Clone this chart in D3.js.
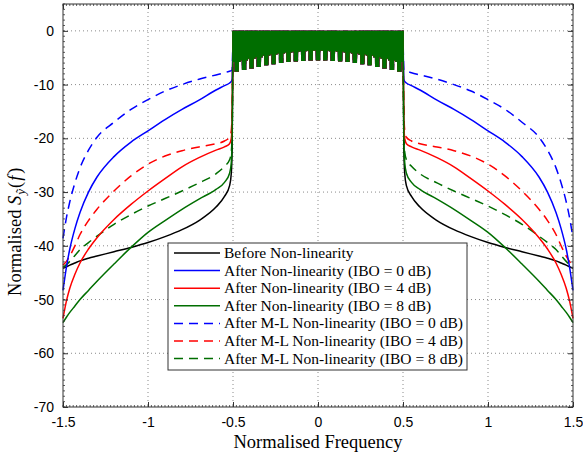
<!DOCTYPE html>
<html>
<head>
<meta charset="utf-8">
<script src="https://cdn.jsdelivr.net/npm/d3@7/dist/d3.min.js"></script>
<style>
  body { margin: 0; background: #fff; }
  .serif { font-family: "Liberation Serif", "Times New Roman", serif; }
</style>
</head>
<body>
<div id="chart"></div>
<script>
// |f| positions of the skirt samples (same on both sides of the band)
const skirtF = [0.5, 0.505, 0.51, 0.52, 0.55, 0.6, 0.7, 0.8, 0.9, 1.0, 1.1, 1.2, 1.3, 1.35, 1.4, 1.43, 1.46, 1.48, 1.5];

const beforeNL = [0, -22, -26.5, -28.8, -30.8, -32.8, -35.3, -37.0, -38.3, -39.4, -40.3, -41.1, -41.9, -42.3, -42.8, -43.2, -43.6, -43.9, -44.2];
const afterNL0 = [0, -9.0, -9.4, -9.7, -10.2, -11.0, -12.9, -14.6, -16.5, -18.6, -20.7, -23.4, -27.2, -30.0, -33.8, -36.8, -40.6, -44.0, -48.3];
const afterNL4 = [0, -17, -20.0, -21.0, -21.6, -22.2, -23.6, -25.3, -27.5, -29.8, -32.3, -35.1, -38.5, -40.6, -43.2, -45.3, -47.9, -50.3, -53.5];
const afterNL8 = [0, -20, -24.5, -26.5, -28.2, -29.5, -31.3, -33.2, -35.3, -37.5, -40.3, -43.4, -46.6, -48.3, -50.0, -51.2, -52.4, -53.3, -54.3];
const mlNL0 = [0, -7.3, -7.4, -7.5, -7.8, -8.2, -9.0, -10.0, -11.2, -12.8, -14.6, -17.0, -19.8, -22.2, -25.5, -28.3, -31.8, -34.8, -38.6];
const mlNL4 = [0, -15, -18.5, -19.8, -20.5, -21.0, -21.6, -22.3, -23.3, -24.8, -27.0, -29.8, -33.2, -35.3, -37.9, -40.0, -41.9, -42.9, -43.6];
const mlNL8 = [0, -19, -22.5, -24.0, -25.2, -26.6, -28.3, -29.8, -31.2, -32.6, -34.2, -36.0, -38.2, -39.4, -40.7, -41.8, -42.9, -43.5, -44.0];

// in-band ripple: one entry per ripple column
const bandF = [-0.478, -0.435, -0.391, -0.348, -0.304, -0.261, -0.217, -0.174, -0.130, -0.087, -0.043, 0,
  0.043, 0.087, 0.130, 0.174, 0.217, 0.261, 0.304, 0.348, 0.391, 0.435, 0.478];
const bandDepth = [-7.6, -7.3, -7.0, -6.7, -6.4, -6.2, -6.0, -5.8, -5.7, -5.6, -5.5, -5.5,
  -5.5, -5.6, -5.7, -5.8, -6.0, -6.2, -6.4, -6.7, -7.0, -7.3, -7.6];
const bandShallow = [-5.8, -5.5, -5.2, -4.9, -4.6, -4.4, -4.2, -4.0, -3.9, -3.8, -3.7, -3.7,
  -3.7, -3.8, -3.9, -4.0, -4.2, -4.4, -4.6, -4.9, -5.2, -5.5, -5.8];

const xTicks = [-1.5, -1, -0.5, 0, 0.5, 1, 1.5];
const yTicks = [0, -10, -20, -30, -40, -50, -60, -70];

const legendLabels = [
  "Before Non-linearity",
  "After Non-linearity (IBO = 0 dB)",
  "After Non-linearity (IBO = 4 dB)",
  "After Non-linearity (IBO = 8 dB)",
  "After M-L Non-linearity (IBO = 0 dB)",
  "After M-L Non-linearity (IBO = 4 dB)",
  "After M-L Non-linearity (IBO = 8 dB)",
];

const GREEN = "#006e00";
const series = [
  { name: legendLabels[0], values: beforeNL, color: "#000", dash: null },
  { name: legendLabels[1], values: afterNL0, color: "#0000ff", dash: null },
  { name: legendLabels[2], values: afterNL4, color: "#ff0000", dash: null },
  { name: legendLabels[3], values: afterNL8, color: GREEN, dash: null },
  { name: legendLabels[4], values: mlNL0, color: "#0000ff", dash: "9,6" },
  { name: legendLabels[5], values: mlNL4, color: "#ff0000", dash: "9,6" },
  { name: legendLabels[6], values: mlNL8, color: GREEN, dash: "9,6" },
];
// draw dashed ones underneath, green solid last
const drawOrder = [4, 5, 6, 0, 1, 2, 3];

const width = 583, height = 455;
const margin = { top: 4, right: 10, bottom: 48, left: 63 };
const W = width - margin.left - margin.right;
const H = height - margin.top - margin.bottom;

const svg = d3.select("#chart")
  .append("svg")
  .attr("width", width)
  .attr("height", height);

const g = svg.append("g")
  .attr("transform", "translate(" + margin.left + "," + margin.top + ")");

const x = d3.scaleLinear().domain([-1.5, 1.5]).range([0, W]);
const y = d3.scaleLinear().domain([-70, 5]).range([H, 0]);

// grid
g.append("g")
  .selectAll("line")
  .data(xTicks.slice(1, -1))
  .join("line")
  .attr("x1", (d) => x(d)).attr("x2", (d) => x(d))
  .attr("y1", 0).attr("y2", H)
  .attr("stroke", "#8a8a8a").attr("stroke-width", 1)
  .attr("stroke-dasharray", "1,3");
g.append("g")
  .selectAll("line")
  .data(yTicks.slice(0, -1))
  .join("line")
  .attr("y1", (d) => y(d)).attr("y2", (d) => y(d))
  .attr("x1", 0).attr("x2", W)
  .attr("stroke", "#8a8a8a").attr("stroke-width", 1)
  .attr("stroke-dasharray", "1,3");

// passband ripple points: dense zigzag, deep in the columns, shallow in between
const bandPts = [];
const step = 0.04348 / 16;
bandF.forEach((c, i) => {
  const s = c - 8 * step;
  for (let k = 0; k < 16; k++) {
    let v = 0;
    if (k % 2 === 1) v = k >= 5 && k <= 11 ? bandDepth[i] : bandShallow[i];
    bandPts.push([s + k * step, v]);
  }
});
bandPts.push([0.5, 0]);

const smooth = d3.line()
  .x((d) => x(d[0]))
  .y((d) => y(d[1]))
  .curve(d3.curveMonotoneX);
const straight = d3.line()
  .x((d) => x(d[0]))
  .y((d) => y(d[1]));

const curves = g.append("g");
drawOrder.forEach((idx) => {
  const s = series[idx];
  const right = skirtF.map((f, i) => [f, s.values[i]]);
  const left = skirtF.map((f, i) => [-f, s.values[i]]).reverse();
  [smooth(left), straight(bandPts), smooth(right)].forEach((dStr) => {
    curves.append("path")
      .attr("d", dStr)
      .attr("fill", "none")
      .attr("stroke", s.color)
      .attr("stroke-width", 1.5)
      .attr("stroke-dasharray", s.dash);
  });
});

// ticks on all four sides, pointing inward
const axisColor = "#333";
const fmt = (d) => String(d);
g.append("g")
  .attr("transform", `translate(0,${H})`)
  .call(d3.axisBottom(x).tickValues(xTicks).tickSizeInner(-5).tickSizeOuter(0).tickPadding(10).tickFormat(fmt))
  .call((a) => a.select(".domain").remove());
g.append("g")
  .call(d3.axisTop(x).tickValues(xTicks).tickSizeInner(-5).tickSizeOuter(0).tickFormat(""))
  .call((a) => a.select(".domain").remove());
g.append("g")
  .call(d3.axisLeft(y).tickValues(yTicks).tickSizeInner(-5).tickSizeOuter(0).tickPadding(9).tickFormat(fmt))
  .call((a) => a.select(".domain").remove());
g.append("g")
  .attr("transform", `translate(${W},0)`)
  .call(d3.axisRight(y).tickValues(yTicks).tickSizeInner(-5).tickSizeOuter(0).tickFormat(""))
  .call((a) => a.select(".domain").remove());

// minor ticks
const xMinor = d3.range(-1.5, 1.5001, 0.02);
const yMinor = d3.range(-70, 5.001, 1);
[[0, 2], [H, -2]].forEach(([yy, len]) => {
  g.append("g").selectAll("line").data(xMinor).join("line")
    .attr("x1", (d) => x(d)).attr("x2", (d) => x(d))
    .attr("y1", yy).attr("y2", yy + len)
    .attr("stroke", axisColor).attr("stroke-width", 0.8);
});
[[0, 2], [W, -2]].forEach(([xx, len]) => {
  g.append("g").selectAll("line").data(yMinor).join("line")
    .attr("y1", (d) => y(d)).attr("y2", (d) => y(d))
    .attr("x1", xx).attr("x2", xx + len)
    .attr("stroke", axisColor).attr("stroke-width", 0.8);
});

g.selectAll(".tick line").attr("stroke", axisColor);
g.selectAll(".tick text")
  .attr("fill", "#000")
  .style("font-size", "14px")
  .style("font-family", "'Liberation Sans', Arial, sans-serif");

g.append("rect")
  .attr("width", W).attr("height", H)
  .attr("fill", "none").attr("stroke", axisColor).attr("stroke-width", 1);

// axis labels
svg.append("text")
  .attr("class", "serif")
  .attr("x", margin.left + W / 2)
  .attr("y", 448)
  .attr("text-anchor", "middle")
  .style("font-size", "18.5px")
  .text("Normalised Frequency");

const yl = svg.append("text")
  .attr("class", "serif")
  .attr("transform", "translate(21," + (margin.top + H * 0.565) + ") rotate(-90)")
  .attr("text-anchor", "middle")
  .style("font-size", "18.5px");
yl.append("tspan").text("Normalised ");
yl.append("tspan").style("font-style", "italic").text("S");
yl.append("tspan").style("font-style", "italic").style("font-size", "13px").attr("dy", 4).attr("dx", 1).text("ỹ");
yl.append("tspan").attr("dy", -4).attr("dx", 1).text("(");
yl.append("tspan").style("font-style", "italic").attr("dx", 1).text("f");
yl.append("tspan").attr("dx", 2).text(")");

// legend
const lg = svg.append("g").attr("transform", "translate(168,243)");
lg.append("rect")
  .attr("width", 299).attr("height", 127)
  .attr("fill", "#fff").attr("stroke", axisColor).attr("stroke-width", 1);
const rows = lg.selectAll("g.row")
  .data(series)
  .join("g")
  .attr("class", "row")
  .attr("transform", (d, i) => `translate(0,${10 + i * 17.6})`);
rows.append("line")
  .attr("x1", 6).attr("x2", 52)
  .attr("stroke", (d) => d.color)
  .attr("stroke-width", 1.5)
  .attr("stroke-dasharray", (d) => d.dash);
rows.append("text")
  .attr("class", "serif")
  .attr("x", 56).attr("y", 5)
  .style("font-size", "15.5px")
  .text((d) => d.name);
</script>
</body>
</html>
